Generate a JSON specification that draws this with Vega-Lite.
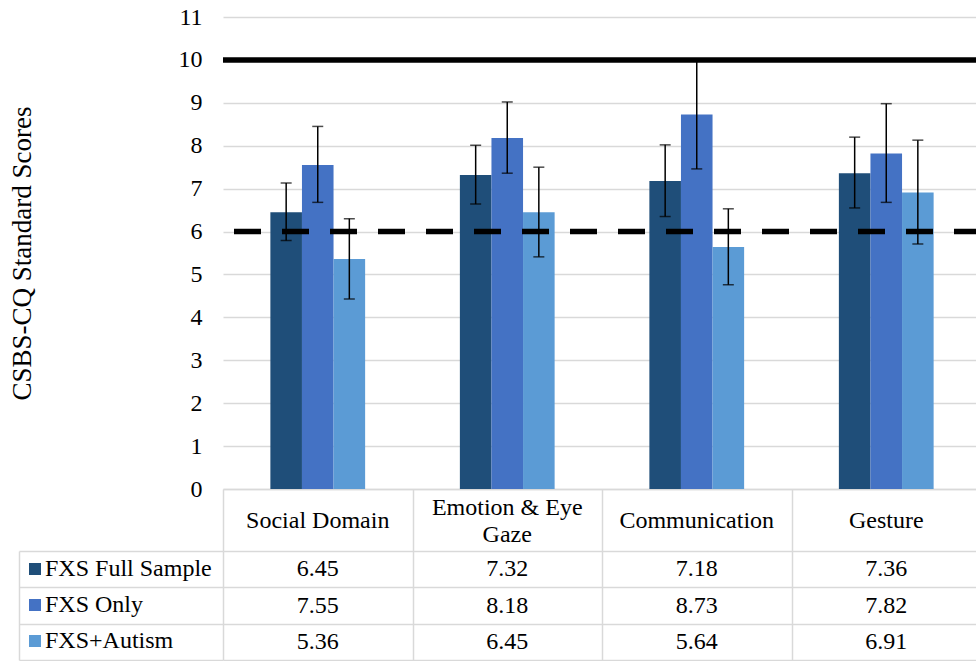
{
  "$schema": "https://vega.github.io/schema/vega-lite/v6.json",
  "autosize": {"type": "pad"},
  "padding": {"left": 8, "top": 5, "right": 0, "bottom": 0},
  "background": "white",
  "config": {
    "view": {"stroke": null},
    "font": "Liberation Serif"
  },
  "datasets": {
    "scores": [
      {"domain": "Social Domain", "group": "FXS Full Sample", "mean": 6.45, "lo": 5.79, "hi": 7.13},
      {"domain": "Social Domain", "group": "FXS Only", "mean": 7.55, "lo": 6.68, "hi": 8.45},
      {"domain": "Social Domain", "group": "FXS+Autism", "mean": 5.36, "lo": 4.43, "hi": 6.30},
      {"domain": "Emotion & Eye Gaze", "group": "FXS Full Sample", "mean": 7.32, "lo": 6.64, "hi": 8.01},
      {"domain": "Emotion & Eye Gaze", "group": "FXS Only", "mean": 8.18, "lo": 7.36, "hi": 9.02},
      {"domain": "Emotion & Eye Gaze", "group": "FXS+Autism", "mean": 6.45, "lo": 5.41, "hi": 7.50},
      {"domain": "Communication", "group": "FXS Full Sample", "mean": 7.18, "lo": 6.35, "hi": 8.02},
      {"domain": "Communication", "group": "FXS Only", "mean": 8.73, "lo": 7.46, "hi": 10.0},
      {"domain": "Communication", "group": "FXS+Autism", "mean": 5.64, "lo": 4.76, "hi": 6.53},
      {"domain": "Gesture", "group": "FXS Full Sample", "mean": 7.36, "lo": 6.55, "hi": 8.20},
      {"domain": "Gesture", "group": "FXS Only", "mean": 7.82, "lo": 6.68, "hi": 8.98},
      {"domain": "Gesture", "group": "FXS+Autism", "mean": 6.91, "lo": 5.71, "hi": 8.13}
    ]
  },
  "bounds": "flush",
  "spacing": 62,
  "vconcat": [
    {
      "width": 758,
      "height": 472,
      "data": {"name": "scores"},
      "encoding": {
        "x": {
          "field": "domain",
          "type": "nominal",
          "sort": ["Social Domain", "Emotion & Eye Gaze", "Communication", "Gesture"],
          "scale": {"paddingInner": 0.5, "paddingOuter": 0.25},
          "axis": {
            "title": null,
            "orient": "bottom",
            "domain": true,
            "domainColor": "#d9d9d9",
            "domainWidth": 1.5,
            "ticks": false,
            "grid": false,
            "labelAngle": 0,
            "labelFont": "Liberation Serif",
            "labelFontSize": 24,
            "labelColor": "black",
            "labelBaseline": "middle",
            "labelPadding": {"condition": {"test": "datum.value == 'Emotion & Eye Gaze'", "value": 18}, "value": 31},
            "labelLineHeight": 27,
            "labelLimit": 400,
            "labelExpr": "datum.value == 'Emotion & Eye Gaze' ? ['Emotion & Eye', 'Gaze'] : datum.value"
          }
        },
        "xOffset": {
          "field": "group",
          "type": "nominal",
          "sort": ["FXS Full Sample", "FXS Only", "FXS+Autism"],
          "scale": {"paddingInner": 0, "paddingOuter": 0}
        }
      },
      "layer": [
        {
          "mark": {"type": "bar", "stroke": null},
          "encoding": {
            "y": {
              "field": "mean",
              "type": "quantitative",
              "scale": {"domain": [0, 11], "nice": false},
              "axis": {
                "title": "CSBS-CQ Standard Scores",
                "titleFont": "Liberation Serif",
                "titleFontSize": 27,
                "titleFontWeight": "normal",
                "titleColor": "black",
                "titlePadding": 142,
                "values": [0, 1, 2, 3, 4, 5, 6, 7, 8, 9, 10, 11],
                "domain": false,
                "ticks": false,
                "labelFont": "Liberation Serif",
                "labelFontSize": 24,
                "labelColor": "black",
                "labelPadding": 21,
                "gridColor": "#d9d9d9",
                "gridWidth": 1.3
              }
            },
            "color": {
              "field": "group",
              "type": "nominal",
              "sort": ["FXS Full Sample", "FXS Only", "FXS+Autism"],
              "scale": {
                "domain": ["FXS Full Sample", "FXS Only", "FXS+Autism"],
                "range": ["#1f4e79", "#4472c4", "#5b9bd5"]
              },
              "legend": {
                "title": null,
                "orient": "none",
                "legendX": -200,
                "legendY": 540,
                "direction": "vertical",
                "padding": 0,
                "symbolType": "square",
                "symbolSize": 144,
                "symbolStrokeWidth": 0,
                "symbolOpacity": 1,
                "labelFont": "Liberation Serif",
                "labelFontSize": 24,
                "labelColor": "black",
                "labelOffset": -2,
                "labelLimit": 300,
                "rowPadding": 12
              }
            }
          }
        },
        {
          "mark": {"type": "rule", "color": "black", "strokeWidth": 1.5},
          "encoding": {
            "y": {"field": "lo", "type": "quantitative"},
            "y2": {"field": "hi"}
          }
        },
        {
          "mark": {"type": "tick", "color": "black", "size": 11, "thickness": 1.5, "orient": "horizontal"},
          "encoding": {
            "y": {"field": "lo", "type": "quantitative"}
          }
        },
        {
          "mark": {"type": "tick", "color": "black", "size": 11, "thickness": 1.5, "orient": "horizontal"},
          "encoding": {
            "y": {"field": "hi", "type": "quantitative"}
          }
        },
        {
          "data": {"values": [{"cutoff": 6}]},
          "mark": {"type": "rule", "color": "black", "strokeWidth": 5.5, "strokeDash": [27, 21]},
          "encoding": {
            "x": null,
            "xOffset": null,
            "y": {"field": "cutoff", "type": "quantitative"}
          }
        },
        {
          "data": {"values": [{"ceiling": 10}]},
          "mark": {"type": "rule", "color": "black", "strokeWidth": 5.5},
          "encoding": {
            "x": null,
            "xOffset": null,
            "y": {"field": "ceiling", "type": "quantitative"}
          }
        }
      ]
    },
    {
      "width": 758,
      "height": 109,
      "data": {"name": "scores"},
      "mark": {"type": "text", "font": "Liberation Serif", "fontSize": 24, "color": "black", "baseline": "middle"},
      "encoding": {
        "x": {
          "field": "domain",
          "type": "nominal",
          "sort": ["Social Domain", "Emotion & Eye Gaze", "Communication", "Gesture"],
          "scale": {"paddingInner": 0, "paddingOuter": 0},
          "axis": {
            "title": null,
            "orient": "top",
            "labels": false,
            "domain": false,
            "ticks": true,
            "tickBand": "extent",
            "tickSize": 62,
            "tickColor": "#d9d9d9",
            "tickWidth": 1.5,
            "grid": true,
            "gridColor": "#d9d9d9",
            "gridWidth": 1.5
          }
        },
        "y": {
          "field": "group",
          "type": "nominal",
          "sort": ["FXS Full Sample", "FXS Only", "FXS+Autism"],
          "scale": {"paddingInner": 0, "paddingOuter": 0},
          "axis": {
            "title": null,
            "orient": "left",
            "offset": 204,
            "labels": false,
            "domain": true,
            "domainColor": "#d9d9d9",
            "domainWidth": 1.5,
            "ticks": true,
            "tickSize": -204,
            "tickBand": "extent",
            "tickColor": "#d9d9d9",
            "tickWidth": 1.5,
            "grid": true,
            "gridColor": "#d9d9d9",
            "gridWidth": 1.5
          }
        },
        "text": {"field": "mean", "type": "quantitative", "format": ".2f"}
      }
    }
  ]
}
